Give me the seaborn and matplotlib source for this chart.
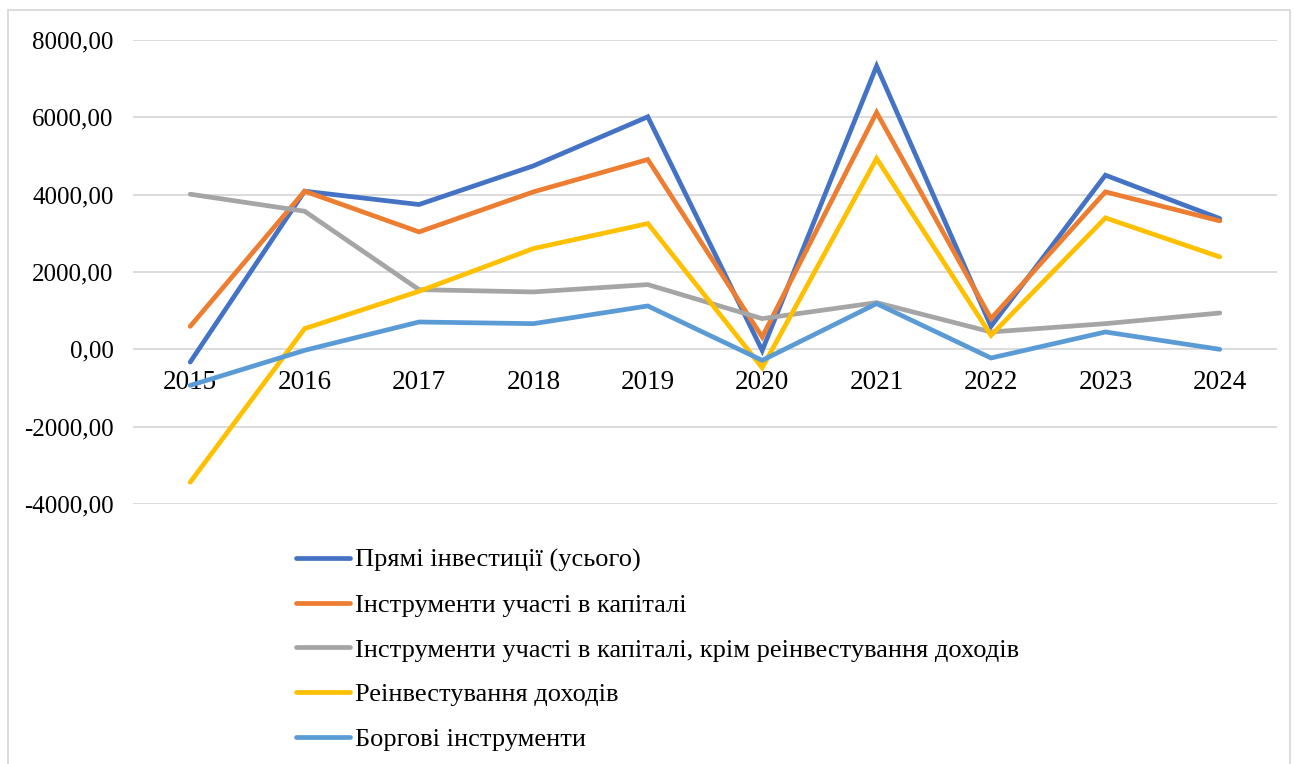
import numpy as np
import pandas as pd
import matplotlib
matplotlib.use('Agg')
import matplotlib.pyplot as plt
from matplotlib.patches import Rectangle
from matplotlib.ticker import FuncFormatter
from matplotlib.lines import Line2D
import seaborn as sns

# Data
years = ['2015', '2016', '2017', '2018', '2019', '2020', '2021', '2022', '2023', '2024']
direct_total = [-330, 4090, 3745, 4745, 6014, -30, 7325, 595, 4504, 3382]
equity = [595, 4090, 3037, 4072, 4909, 319, 6126, 794, 4072, 3322]
equity_ex_reinv = [4012, 3572, 1544, 1484, 1674, 794, 1208, 449, 664, 940]
reinvested = [-3437, 535, 1501, 2606, 3253, -475, 4935, 362, 3400, 2390]
debt = [-933, -26, 707, 664, 1122, -285, 1182, -224, 449, 0]

series_names = ['Прямі інвестиції (усього)',
                'Інструменти участі в капіталі',
                'Інструменти участі в капіталі, крім реінвестування доходів',
                'Реінвестування доходів',
                'Боргові інструменти']
colors = ['#4472C4', '#ED7D31', '#A5A5A5', '#FFC000', '#5B9BD5']

# Long table for seaborn
frames = []
for name, vals in zip(series_names, [direct_total, equity, equity_ex_reinv, reinvested, debt]):
    frames.append(pd.DataFrame({'year': np.arange(len(years)), 'value': vals, 'series': name}))
df = pd.concat(frames, ignore_index=True)

sns.set_style('white')
plt.rcParams['font.family'] = ['Liberation Serif', 'DejaVu Serif']
plt.rcParams['text.color'] = 'black'
plt.rcParams['xtick.color'] = 'black'
plt.rcParams['ytick.color'] = 'black'

fig = plt.figure(figsize=(12.95, 7.64), dpi=100)
ax = fig.add_axes([133 / 1295, 1 - 504 / 764, (1277 - 133) / 1295, (504 - 40) / 764])

sns.lineplot(data=df, x='year', y='value', hue='series', hue_order=series_names,
             palette=colors, linewidth=3.4, ax=ax, legend=False, sort=False)
for line in ax.get_lines():
    line.set_solid_capstyle('round')
    line.set_solid_joinstyle('miter')

ax.set_xlim(-0.5, len(years) - 0.5)
ax.set_ylim(-4000, 8000)
ax.set_yticks(np.arange(-4000, 8001, 2000))
ax.yaxis.set_major_formatter(FuncFormatter(lambda v, p: '{:.2f}'.format(v).replace('.', ',')))
ax.grid(axis='y', color='#D9D9D9', linewidth=1.3)
ax.set_axisbelow(True)

# category labels sit right under the zero line
ax.set_xticks(np.arange(len(years)))
ax.set_xticklabels(years)
ax.spines['bottom'].set_position(('data', 0))
for s in ['top', 'right', 'left', 'bottom']:
    ax.spines[s].set_visible(False)
ax.tick_params(axis='x', length=0, pad=15, labelsize=19.5, labelcolor='black')
ax.tick_params(axis='y', length=0, pad=14, labelsize=18, labelcolor='black')
ax.set_xlabel('')
ax.set_ylabel('')

handles = [Line2D([0], [0], color=c, linewidth=3.4, solid_capstyle='round') for c in colors]
fig.legend(handles, series_names, loc='upper left',
           bbox_to_anchor=(285 / 1295, 1 - 538 / 764), frameon=False,
           fontsize=19, handlelength=2.05, handletextpad=0.2, labelspacing=0.8,
           borderaxespad=0, labelcolor='black')

# chart area border
fig.patches.append(Rectangle((8 / 1295, -0.01), 1282 / 1295, 1 - 10 / 764 + 0.01,
                             transform=fig.transFigure, fill=False,
                             edgecolor='#D9D9D9', linewidth=1.3))

fig.savefig('out.png', dpi=100)
